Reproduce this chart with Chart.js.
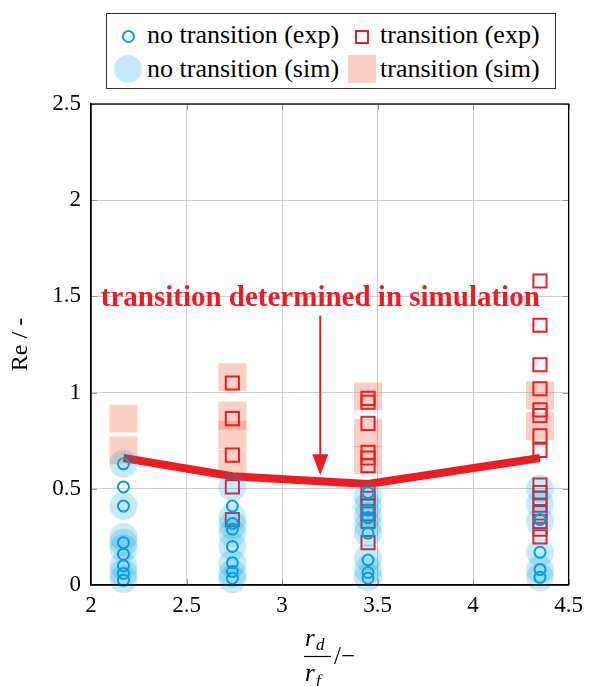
<!DOCTYPE html>
<html><head><meta charset="utf-8">
<script src="https://cdn.jsdelivr.net/npm/chart.js@4/dist/chart.umd.min.js"></script>
<style>
html,body{margin:0;padding:0;background:#fff;}
#wrap{position:relative;width:590px;height:686px;overflow:hidden;}
#c{position:absolute;left:0;top:0;}
#legend{position:absolute;left:106px;top:13px;width:448px;height:74px;border:1.5px solid #333;background:#fff;font-family:"Liberation Serif","Times New Roman","DejaVu Serif",serif;font-size:26px;color:#000;}
.txt{position:absolute;white-space:nowrap;height:30px;line-height:30px;}
.mk{position:absolute;box-sizing:border-box;}
</style>
</head><body>
<div id="wrap">
<canvas id="c" width="590" height="686"></canvas>
<div id="legend">
  <div class="mk" style="left:15px;top:16px;width:13px;height:13px;border:2px solid #00A0E3;border-radius:50%;"></div>
  <div class="txt" style="left:40px;top:6px;">no transition (exp)</div>
  <div class="mk" style="left:248px;top:16px;width:14px;height:14px;border:2px solid #ED1C24;"></div>
  <div class="txt" style="left:273px;top:6px;">transition (exp)</div>
  <div class="mk" style="left:7px;top:41px;width:28px;height:28px;background:rgba(0,160,227,0.23);border-radius:50%;"></div>
  <div class="txt" style="left:40px;top:40px;">no transition (sim)</div>
  <div class="mk" style="left:241px;top:41px;width:28px;height:28px;background:rgba(240,100,60,0.3);"></div>
  <div class="txt" style="left:273px;top:40px;">transition (sim)</div>
</div>
</div>
<script>
// ---- data ----
const rRatio = [2.17, 2.74, 3.45, 4.35];
const expNoTransRe = [
  [0.63, 0.51, 0.41, 0.22, 0.16, 0.10, 0.06, 0.025],
  [0.41, 0.32, 0.29, 0.20, 0.115, 0.07, 0.035],
  [0.48, 0.39, 0.35, 0.27, 0.13, 0.065, 0.035],
  [0.34, 0.17, 0.08, 0.04]
];
const simNoTransRe = [
  [0.63, 0.41, 0.25, 0.22, 0.19, 0.10, 0.06, 0.03],
  [0.51, 0.35, 0.31, 0.27, 0.20, 0.11, 0.06, 0.03],
  [0.46, 0.41, 0.36, 0.31, 0.27, 0.14, 0.08, 0.04],
  [0.50, 0.42, 0.33, 0.17, 0.08, 0.04]
];
const expTransRe = [
  [],
  [1.05, 0.865, 0.675, 0.51, 0.34],
  [0.97, 0.95, 0.84, 0.69, 0.66, 0.62, 0.48, 0.45, 0.41, 0.37, 0.33, 0.22],
  [1.58, 1.35, 1.145, 1.02, 0.91, 0.88, 0.775, 0.70, 0.52, 0.48, 0.45, 0.415, 0.375, 0.33, 0.29, 0.25]
];
const simTransRe = [
  [0.865, 0.70],
  [1.08, 0.88, 0.78, 0.63],
  [0.98, 0.79, 0.65],
  [0.985, 0.825]
];
const transLineRe = [0.66, 0.565, 0.525, 0.66];
const xTicks = [2, 2.5, 3, 3.5, 4, 4.5];
const yTicks = [0, 0.5, 1, 1.5, 2, 2.5];
const annotationText = 'transition determined in simulation';
const annotationPos = [3.2, 1.45];
const arrowX = [3.2, 3.2];
const arrowY = [1.40, 0.57];

function pts(groups){
  const out = [];
  groups.forEach((g, i) => g.forEach(v => out.push({x: rRatio[i], y: v})));
  return out;
}

const SERIF = '"Liberation Serif","Times New Roman","DejaVu Serif",serif';
const RED = '#ED1C24';
const BLUE = '#00A0E3';

const framePlugin = {
  id: 'frame',
  afterDraw(chart){
    const {ctx, chartArea: a, scales} = chart;
    ctx.save();
    ctx.strokeStyle = '#999';
    ctx.lineWidth = 1;
    const L = 6;
    yTicks.forEach(v => {
      const y = Math.round(scales.y.getPixelForValue(v)) + 0.5;
      ctx.beginPath(); ctx.moveTo(a.left, y); ctx.lineTo(a.left + L, y);
      ctx.moveTo(a.right, y); ctx.lineTo(a.right - L, y); ctx.stroke();
    });
    xTicks.forEach(v => {
      const x = Math.round(scales.x.getPixelForValue(v)) + 0.5;
      ctx.beginPath(); ctx.moveTo(x, a.bottom); ctx.lineTo(x, a.bottom - L);
      ctx.moveTo(x, a.top); ctx.lineTo(x, a.top + L); ctx.stroke();
    });
    ctx.strokeStyle = '#000';
    ctx.lineWidth = 1.3;
    ctx.strokeRect(a.left, a.top, a.right - a.left, a.bottom - a.top);
    // x axis label: r_d / r_f  /−
    ctx.fillStyle = '#000';
    ctx.textBaseline = 'alphabetic';
    ctx.textAlign = 'left';
    ctx.font = 'italic 25px ' + SERIF;
    ctx.fillText('r', 305, 646);
    ctx.fillText('r', 305, 681);
    ctx.font = 'italic 17px ' + SERIF;
    ctx.fillText('d', 316, 650);
    ctx.fillText('f', 316, 686);
    ctx.lineWidth = 1.2;
    ctx.beginPath(); ctx.moveTo(304, 656.5); ctx.lineTo(331, 656.5); ctx.stroke();
    ctx.font = '25px ' + SERIF;
    ctx.fillText('/\u2212', 334, 664);
    ctx.restore();
  }
};

const annotPlugin = {
  id: 'annot',
  afterDatasetsDraw(chart){
    const {ctx, scales} = chart;
    ctx.save();
    const x = scales.x.getPixelForValue(arrowX[0]);
    const y0 = scales.y.getPixelForValue(arrowY[0]);
    const y1 = scales.y.getPixelForValue(arrowY[1]);
    ctx.strokeStyle = RED; ctx.fillStyle = RED; ctx.lineWidth = 2;
    ctx.beginPath(); ctx.moveTo(x, y0); ctx.lineTo(x, y1 - 18); ctx.stroke();
    ctx.beginPath(); ctx.moveTo(x, y1); ctx.lineTo(x - 8, y1 - 21); ctx.lineTo(x + 8, y1 - 21); ctx.closePath(); ctx.fill();
    ctx.font = 'bold 29px ' + SERIF;
    ctx.textAlign = 'center'; ctx.textBaseline = 'alphabetic';
    ctx.fillText(annotationText, scales.x.getPixelForValue(annotationPos[0]), scales.y.getPixelForValue(annotationPos[1]));
    ctx.restore();
  }
};

const fmt = v => String(v);

new Chart(document.getElementById('c'), {
  type: 'scatter',
  data: {
    datasets: [
      { label: 'no transition (exp)', data: pts(expNoTransRe), pointStyle: 'circle', pointRadius: 5.5,
        borderColor: BLUE, backgroundColor: 'rgba(0,0,0,0)', borderWidth: 2, order: 0, clip: false },
      { label: 'no transition (sim)', data: pts(simNoTransRe), pointStyle: 'circle', pointRadius: 14,
        backgroundColor: 'rgba(0,160,227,0.22)', borderWidth: 0, order: 1, clip: false },
      { label: 'transition (exp)', data: pts(expTransRe), pointStyle: 'rect', pointRadius: 9.3,
        borderColor: RED, backgroundColor: 'rgba(0,0,0,0)', borderWidth: 2, order: 2, clip: false },
      { label: 'transition line', data: rRatio.map((r, i) => ({x: r, y: transLineRe[i]})), showLine: true,
        pointRadius: 0, borderColor: RED, borderWidth: 8, order: 3, borderCapStyle: 'butt', clip: false },
      { label: 'transition (sim)', data: pts(simTransRe), pointStyle: 'rect', pointRadius: 19.8,
        backgroundColor: 'rgba(240,100,60,0.3)', borderWidth: 0, order: 4, clip: false }
    ]
  },
  options: {
    responsive: false,
    animation: false,
    events: [],
    devicePixelRatio: 1,
    layout: { padding: { top: 104, right: 18, left: 0, bottom: 0 } },
    plugins: { legend: { display: false }, tooltip: { enabled: false } },
    scales: {
      x: {
        type: 'linear', min: 2, max: 4.5,
        afterBuildTicks: s => { s.ticks = xTicks.map(v => ({value: v})); },
        afterFit: s => { s.height = 101; },
        ticks: { color: '#000', font: { family: SERIF, size: 23 }, padding: 7, maxRotation: 0, callback: fmt },
        grid: { color: '#cfcfcf', lineWidth: 1, drawTicks: false },
        border: { display: true, color: '#000', width: 1.3 }
      },
      y: {
        type: 'linear', min: 0, max: 2.5,
        afterBuildTicks: s => { s.ticks = yTicks.map(v => ({value: v})); },
        afterFit: s => { s.width = 91; },
        ticks: { color: '#000', font: { family: SERIF, size: 23 }, padding: 10, callback: fmt },
        grid: { color: '#cfcfcf', lineWidth: 1, drawTicks: false },
        border: { display: true, color: '#000', width: 1.3 },
        title: { display: true, text: 'Re / -', color: '#000', font: { family: SERIF, size: 24 }, padding: { top: 6, bottom: 0 } }
      }
    }
  },
  plugins: [framePlugin, annotPlugin]
});
</script>
</body></html>
